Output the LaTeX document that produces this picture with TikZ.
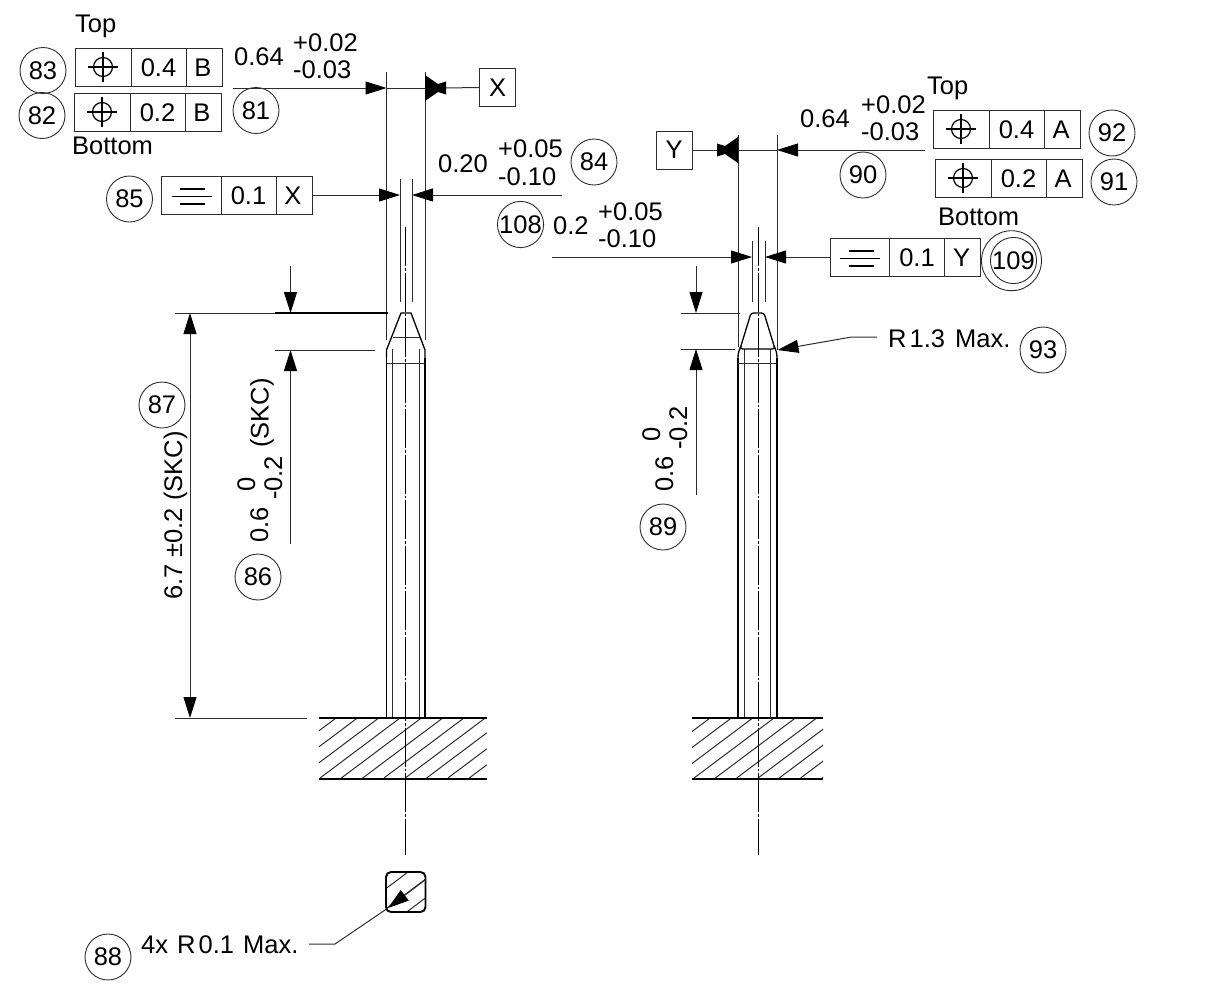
\documentclass[tikz,border=0pt]{standalone}
\usepackage{fontspec}
\setmainfont{Liberation Sans}
\usepackage{tikz}
\usetikzlibrary{arrows.meta}
\tikzstyle{drawing} = [x = 1pt, y = -1pt]
\definecolor{lineColor}{RGB}{45,45,45}
\tikzstyle{dimLine} = [color=lineColor, line width=1pt]
\tikzstyle{dimArrow} = [dimLine, -{Triangle[length=21pt, width=13pt, color=black]}]
\tikzstyle{extLine} = [color=lineColor, line width=.9pt]
\tikzstyle{pinLine} = [color=black, line width=1.9pt]
\tikzstyle{tipLine} = [color=black, line width=1.3pt, line join=round]
\tikzstyle{hatchLine} = [color=lineColor, line width=1pt]
\tikzstyle{symbolLine} = [color=black, line width=1.2pt]
\tikzstyle{centerLine} = [color=black, line width=.9pt, dash pattern=on 39pt off 2pt on 2.5pt off 2pt]
\tikzstyle{labelText} = [font=\fontsize{25.5}{30}\selectfont, inner sep=0, text=black]
\tikzstyle{dimText} = [labelText, anchor=base west]
\tikzstyle{sideText} = [dimText, rotate=90]
\tikzstyle{balloonStyle} = [labelText, draw=lineColor, line width=.9pt, circle, minimum size=46pt]
\tikzstyle{frameStyle} = [draw=lineColor, line width=1pt, inner sep=0, minimum height=38pt]
\newcommand{\balloon}[3]{\node [balloonStyle] (balloon#1) at (#2,#3) {#1};}
\newcommand{\frameBody}[8]{
  \node [frameStyle, minimum width=#4pt] (#1) at (#2 + #4/2, #3 + 19) {};
  \draw [dimLine] (#2 + #5, #3) -- + (0,38);
  \draw [dimLine] (#2 + #6, #3) -- + (0,38);
  \node [labelText] (#1Tol) at (#2 + #5/2 + #6/2, #3 + 19.5) {#7};
  \node [labelText] (#1Datum) at (#2 + #6/2 + #4/2 - 1, #3 + 19.5) {#8};
}
\newcommand{\positionFrame}[5]{
  \frameBody{#1}{#2}{#3}{147}{56}{111}{#4}{#5}
  \draw [symbolLine] (#2 + 28, #3 + 19) circle (9.5pt);
  \draw [symbolLine] (#2 + 13, #3 + 19) -- + (30,0);
  \draw [symbolLine] (#2 + 28, #3 + 4) -- + (0,30);
}
\newcommand{\flatFrame}[5]{
  \frameBody{#1}{#2}{#3}{150.5}{59.5}{114.5}{#4}{#5}
  \draw [symbolLine] (#2 + 18.5, #3 + 13) -- + (25,0);
  \draw [symbolLine] (#2 + 10, #3 + 20.5) -- + (40,0);
  \draw [symbolLine] (#2 + 18.5, #3 + 28) -- + (25,0);
}
\newcommand{\datumFlag}[3]{
  \fill [black] (#1,#2 - 13) -- (#1 + #3*13,#2 - 4) -- (#1 + #3*21,#2 - 6.5) -- (#1 + #3*21,#2 + 6.5) -- (#1 + #3*13,#2 + 4) -- (#1,#2 + 13) -- cycle;
}
\newcommand{\hatchBlock}[3]{
  \begin{scope}
    \clip (#1,718) rectangle (#2,779);
    \foreach \hatchIndex in {0,...,10} {
      \draw [hatchLine] (#3 + \hatchIndex*21.33, 718) -- + (-80,60);
    }
  \end{scope}
  \draw [pinLine] (#1,718) -- (#2,718);
  \draw [pinLine] (#1,779) -- (#2,779);
}
\newcommand{\pinShaft}[4]{
  \draw [pinLine] (#1,358) -- (#1,718);
  \draw [pinLine] (#4,358) -- (#4,718);
  \draw [extLine] (#2,349) -- (#2,718);
  \draw [extLine] (#3,349) -- (#3,718);
  \draw [extLine] (#1,363) -- (#4,363);
}
\begin{document}
\begin{tikzpicture}[drawing]
  \useasboundingbox (0,0) rectangle (1227,986);

  % left pin
  \pinShaft{386.5}{392}{419}{425}
  \draw [tipLine] (386.5,358) -- (386.5,350) -- (401,313) -- (411,313) -- (425,350) -- (425,358);
  \draw [extLine] (392.5,337) -- (419.5,337);
  \hatchBlock{319}{486.5}{336}
  \draw [centerLine] (405.5,227) -- (405.5,855);
  \draw [extLine] (386.5,72) -- (386.5,340);
  \draw [extLine] (425,72) -- (425,340);
  \draw [extLine] (400,179) -- (400,302);
  \draw [extLine] (412,179) -- (412,302);

  % right pin
  \pinShaft{738}{744.5}{770.5}{777}
  \draw [tipLine, rounded corners=2.5pt] (751,313) -- (764,313) -- (775,349) -- (740,349) -- cycle;
  \draw [tipLine] (738,358) .. controls (738,353) and (739,350) .. (741,346);
  \draw [tipLine] (777,358) .. controls (777,353) and (776,350) .. (774,346);
  \hatchBlock{692}{823}{710}
  \draw [centerLine] (758,227) -- (758,855);
  \draw [extLine] (738,135) -- (738,347);
  \draw [extLine] (777,135) -- (777,350);
  \draw [extLine] (752,241) -- (752,302);
  \draw [extLine] (765,241) -- (765,302);

  % left frames
  \node [dimText] (topLeft) at (75,32) {Top};
  \positionFrame{frameTopLeft}{75}{48}{0.4}{B}
  \positionFrame{frameBottomLeft}{74}{93}{0.2}{B}
  \node [dimText] (bottomLeft) at (72,154) {Bottom};
  \balloon{83}{43}{70.5}
  \balloon{82}{42}{115.5}
  \flatFrame{frameFlatX}{161.5}{176}{0.1}{X}
  \balloon{85}{129.5}{199}

  % width at the pin, left
  \node [dimText] (widthLeft) at (234,65) {0.64};
  \node [dimText] (widthLeftUp) at (293,51) {+0.02};
  \node [dimText] (widthLeftLow) at (293,78) {-0.03};
  \balloon{81}{256}{110.5}
  \coordinate (widthLeftStart) at (233,88);
  \coordinate (widthLeftTip) at (386.5,88);
  \coordinate (widthLeftEnd) at (425,88);
  \node [frameStyle, minimum width=36pt] (datumX) at (497.5,87.5) {};
  \node [labelText] (datumXText) at (datumX) {X};
  \draw [dimArrow] (widthLeftStart) -- (widthLeftTip);
  \draw [dimLine] (widthLeftTip) -- (widthLeftEnd);
  \draw [dimLine] (widthLeftEnd) -- (datumX);
  \datumFlag{425}{88}{1}

  % tip width, left
  \node [dimText] (tipLeft) at (438,172) {0.20};
  \node [dimText] (tipLeftUp) at (498,157) {+0.05};
  \node [dimText] (tipLeftLow) at (498,185) {-0.10};
  \balloon{84}{594}{162}
  \balloon{108}{520.5}{224.5}
  \coordinate (tipLeftA) at (400,195);
  \coordinate (tipLeftB) at (412,195);
  \coordinate (tipLeftEnd) at (562,195);
  \draw [dimArrow] (frameFlatX.east |- tipLeftA) -- (tipLeftA);
  \draw [dimArrow] (tipLeftEnd) -- (tipLeftB);

  % heights, left
  \draw [extLine] (175,313) -- (275,313);
  \draw [tipLine] (275,313) -- (388,313);
  \draw [extLine] (275,350) -- (375,350);
  \draw [extLine] (175,718) -- (307,718);
  \draw [dimArrow] (290.5,266) -- (290.5,313);
  \draw [dimArrow] (290.5,544) -- (290.5,350);
  \draw [dimArrow] (190,500) -- (190,313);
  \draw [dimArrow] (190,500) -- (190,718);
  \node [sideText] (heightLeft) at (182,600) {6.7 ±0.2 (SKC)};
  \balloon{87}{162}{405}
  \node [sideText] (chamferLeft) at (268,543) {0.6};
  \node [sideText] (chamferLeftUp) at (255,492) {0};
  \node [sideText] (chamferLeftLow) at (282,500) {-0.2};
  \node [sideText] (chamferLeftSkc) at (268.5,448) {(SKC)};
  \balloon{86}{258}{577}

  % right frames
  \node [dimText] (topRight) at (927,94) {Top};
  \positionFrame{frameTopRight}{933}{110}{0.4}{A}
  \positionFrame{frameBottomRight}{935}{159}{0.2}{A}
  \node [dimText] (bottomRight) at (938,225) {Bottom};
  \balloon{92}{1112}{133}
  \balloon{91}{1114}{182}
  \flatFrame{frameFlatY}{830}{238}{0.1}{Y}
  \node [circle, draw=lineColor, line width=.9pt, minimum size=60pt, inner sep=0] (balloon109Outer) at (1011.5,260.7) {};
  \balloon{109}{1013.5}{260.5}

  % width at the pin, right
  \node [dimText] (widthRight) at (800,127) {0.64};
  \node [dimText] (widthRightUp) at (861,113) {+0.02};
  \node [dimText] (widthRightLow) at (861,140) {-0.03};
  \balloon{90}{863}{175}
  \coordinate (widthRightStart) at (925,150);
  \coordinate (widthRightTip) at (777,150);
  \coordinate (widthRightEnd) at (738,150);
  \node [frameStyle, minimum width=36pt] (datumY) at (674,150) {};
  \node [labelText] (datumYText) at (datumY) {Y};
  \draw [dimArrow] (widthRightStart) -- (widthRightTip);
  \draw [dimLine] (widthRightTip) -- (widthRightEnd);
  \draw [dimLine] (widthRightEnd) -- (datumY);
  \datumFlag{738}{150}{-1}

  % tip width, right
  \node [dimText] (tipRight) at (553,234) {0.2};
  \node [dimText] (tipRightUp) at (598,220) {+0.05};
  \node [dimText] (tipRightLow) at (598,247) {-0.10};
  \coordinate (tipRightStart) at (552,257);
  \coordinate (tipRightA) at (752,257);
  \coordinate (tipRightB) at (765,257);
  \draw [dimArrow] (tipRightStart) -- (tipRightA);
  \draw [dimArrow] (frameFlatY.west |- tipRightB) -- (tipRightB);

  % heights, right
  \draw [extLine] (681,313) -- (740,313);
  \draw [extLine] (681,349) -- (735,349);
  \draw [dimArrow] (696,266) -- (696,313);
  \draw [dimArrow] (696,495) -- (696,349);
  \node [sideText] (chamferRight) at (673,492) {0.6};
  \node [sideText] (chamferRightUp) at (660,442) {0};
  \node [sideText] (chamferRightLow) at (687,450) {-0.2};
  \balloon{89}{663}{527}

  % radius callout
  \node [dimText] (radiusTip) at (888,347) {R\kern3pt 1.3\kern3pt{} Max.};
  \balloon{93}{1043}{350}
  \coordinate (radiusKnee) at (851.5,337);
  \coordinate (radiusStart) at (877,337);
  \coordinate (radiusEnd) at (777.5,350);
  \draw [dimArrow] (radiusStart) -- (radiusKnee) -- (radiusEnd);

  % section through the pin
  \begin{scope}
    \clip [rounded corners=5pt] (386,872) rectangle (425.5,912);
    \foreach \hatchTop in {408,435,460} {
      \draw [hatchLine] (\hatchTop,872) -- + (-53.3,40);
    }
  \end{scope}
  \draw [pinLine, rounded corners=5pt] (386,872) rectangle (425.5,912);
  \node [dimText] (radiusCorner) at (141,953) {4x\kern2pt{} R\kern3pt 0.1\kern2pt{} Max.};
  \balloon{88}{108}{957}
  \coordinate (cornerStart) at (309,944);
  \coordinate (cornerKnee) at (335,944);
  \coordinate (cornerTip) at (388,908);
  \coordinate (cornerInner) at (425,880);
  \draw [dimLine] (cornerStart) -- (cornerKnee) -- (cornerTip);
  \draw [dimArrow] (cornerInner) -- (cornerTip);
\end{tikzpicture}
\end{document}
